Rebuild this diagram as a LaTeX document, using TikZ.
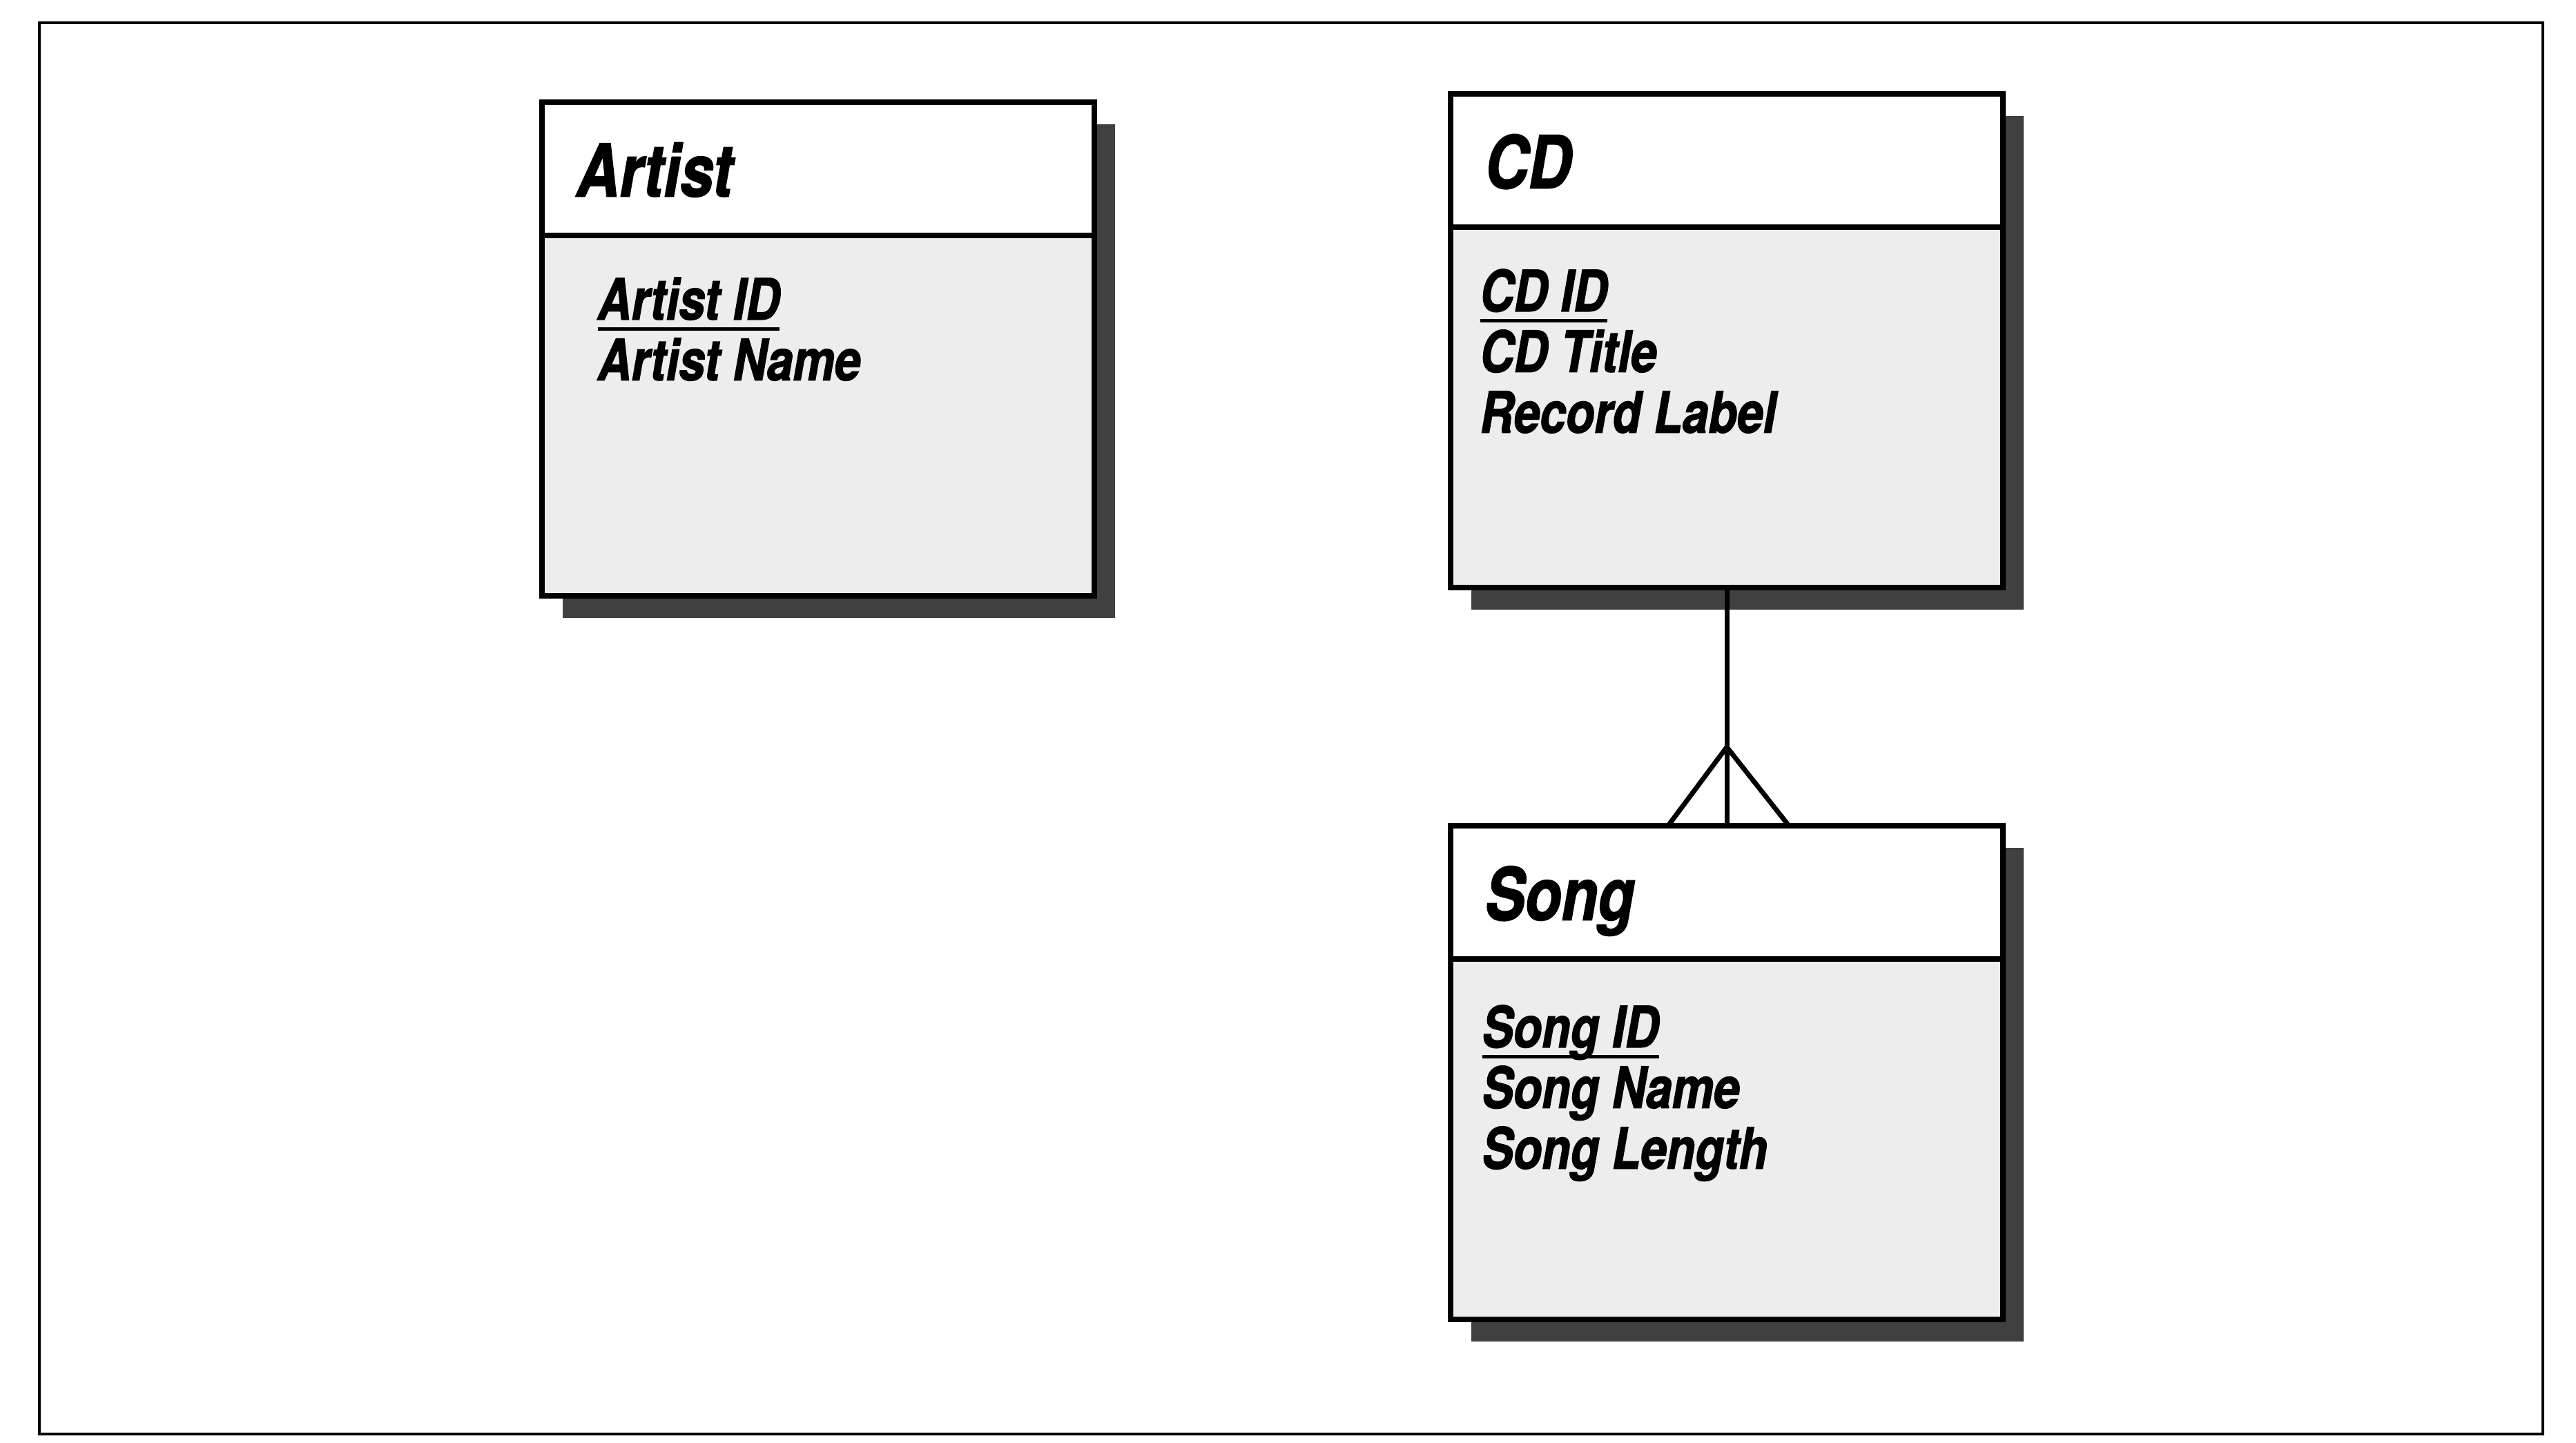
\documentclass[tikz,border=0pt]{standalone}
\usepackage{fontspec}
\setmainfont[FakeStretch=0.82, BoldItalicFeatures={FakeBold=1.6}]{TeX Gyre Heros}
\usetikzlibrary{positioning,shadows}
\newcommand{\pkey}[1]{\setbox0\hbox{#1}\rlap{\rule[-0.16cm]{\wd0}{1.4pt}}\box0}

\begin{document}
\begin{tikzpicture}[
  entity/.style={draw, line width=2.2pt, rectangle, minimum width=8cm, outer sep=0pt,
    drop shadow={shadow xshift=0.3cm, shadow yshift=-0.32cm, fill=black!75, opacity=1}},
  head/.style={entity, fill=white, minimum height=1.93cm, inner xsep=0.5cm, text width=7cm,
    align=left, text height=0.8cm, text depth=0cm,
    font=\fontsize{30}{32}\selectfont\bfseries\itshape},
  attbox/.style={entity, fill=black!7, minimum height=5.22cm},
  attrs/.style={anchor=north west, inner sep=0pt, align=left,
    font=\fontsize{23.5}{25}\selectfont\bfseries\itshape},
  link/.style={line width=2pt},
  node distance=0cm]
\useasboundingbox (0,0) rectangle (37.31,-20.89);
\draw[line width=0.9pt] (0.57,-0.33) rectangle (36.83,-20.77);
% Artist
\node[head, anchor=north west] (artist) at (7.85,-1.48) {Artist};
\node[attbox, below=of artist] (artistbody) {};
\node[attrs] (artistattr) at ([shift={(0.8,-0.6)}]artistbody.north west)
  {\pkey{Artist ID}\\Artist Name};
% CD
\node[head, anchor=north west] (cd) at (21.01,-1.36) {CD};
\node[attbox, below=of cd] (cdbody) {};
\node[attrs] (cdattr) at ([shift={(0.42,-0.6)}]cdbody.north west)
  {\pkey{CD ID}\\CD Title\\Record Label};
% Song
\node[head, below=3.45cm of cdbody] (song) {Song};
\node[attbox, below=of song] (songbody) {};
\node[attrs] (songattr) at ([shift={(0.45,-0.66)}]songbody.north west)
  {\pkey{Song ID}\\Song Name\\Song Length};
% one CD -- many songs
\draw[link] (cdbody.south) -- (song.north);
\coordinate (fork) at ([yshift=1.14cm]song.north);
\draw[link] ([xshift=-0.85cm]song.north) -- (fork) -- ([xshift=0.9cm]song.north);
\end{tikzpicture}
\end{document}
